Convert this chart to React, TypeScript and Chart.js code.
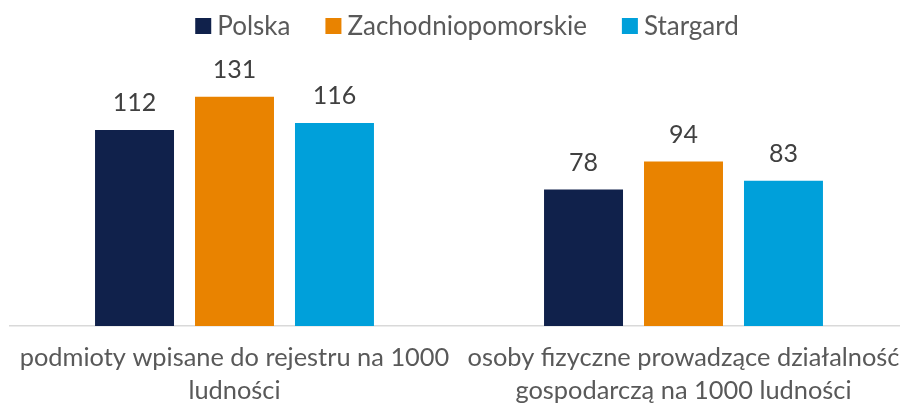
import React, { useEffect, useRef } from "react";
import { Chart, registerables } from "chart.js";

Chart.register(...registerables);

const categories: string[][] = [
  ["podmioty wpisane do rejestru na 1000", "ludności"],
  ["osoby fizyczne prowadzące działalność", "gospodarczą na 1000 ludności"],
];
const seriesNames = ["Polska", "Zachodniopomorskie", "Stargard"];
const polska = [112, 78];
const zachodniopomorskie = [131, 94];
const stargard = [116, 83];
const colors = ["#10214B", "#E98300", "#00A0DA"];

const FONT = "Lato, 'Open Sans', sans-serif";

const labelPlugin = {
  id: "valueLabels",
  afterDatasetsDraw(chart: any) {
    const ctx = chart.ctx;
    ctx.save();
    ctx.font = `25px ${FONT}`;
    ctx.fillStyle = "#404040";
    ctx.textAlign = "center";
    ctx.textBaseline = "alphabetic";
    chart.data.datasets.forEach((ds: any, i: number) => {
      const meta = chart.getDatasetMeta(i);
      meta.data.forEach((bar: any, j: number) => {
        ctx.fillText(String(ds.data[j]), bar.x, bar.y - 19);
      });
    });
    ctx.restore();
  },
};

const legendPlugin = {
  id: "customLegend",
  afterDraw(chart: any) {
    const ctx = chart.ctx;
    ctx.save();
    ctx.font = `26px ${FONT}`;
    const box = 16;
    const gap = 6;
    const spacing = 35;
    const widths = seriesNames.map((n) => ctx.measureText(n).width);
    const total =
      widths.reduce((a, w) => a + box + gap + w, 0) + spacing * (seriesNames.length - 1);
    let x = chart.width / 2 + 9 - total / 2;
    const cy = 18;
    seriesNames.forEach((n, i) => {
      ctx.fillStyle = colors[i];
      ctx.fillRect(x, cy - box / 2, box, box);
      ctx.fillStyle = "#595959";
      ctx.textAlign = "left";
      ctx.textBaseline = "middle";
      ctx.fillText(n, x + box + gap, cy + 1);
      x += box + gap + widths[i] + spacing;
    });
    ctx.restore();
  },
};

export default function App() {
  const ref = useRef<HTMLCanvasElement | null>(null);
  useEffect(() => {
    if (!ref.current) return;
    const data = [polska, zachodniopomorskie, stargard];
    const chart = new Chart(ref.current, {
      type: "bar",
      data: {
        labels: categories,
        datasets: seriesNames.map((n, i) => ({
          label: n,
          data: data[i],
          backgroundColor: colors[i],
          barPercentage: 0.79,
          categoryPercentage: 0.668,
        })),
      },
      options: {
        animation: false,
        responsive: false,
        maintainAspectRatio: false,
        layout: { padding: { left: 2, right: 0, top: 73, bottom: 0 } },
        plugins: {
          legend: { display: false },
          tooltip: { enabled: false },
        },
        scales: {
          x: {
            grid: { display: false, drawTicks: false },
            border: { display: true, color: "#D9D9D9", width: 1.5 },
            ticks: {
              color: "#595959",
              font: { family: FONT, size: 25.4, lineHeight: 1.3 },
              padding: 15,
              maxRotation: 0,
              autoSkip: false,
            },
            afterFit(scale: any) {
              scale.height = 82;
              scale.paddingLeft = 0;
              scale.paddingRight = 0;
            },
          },
          y: { display: false, min: 0, max: 140 },
        },
      },
      plugins: [labelPlugin, legendPlugin],
    });
    return () => chart.destroy();
  }, []);
  return <canvas ref={ref} width={900} height={400} style={{ display: "block" }} />;
}
